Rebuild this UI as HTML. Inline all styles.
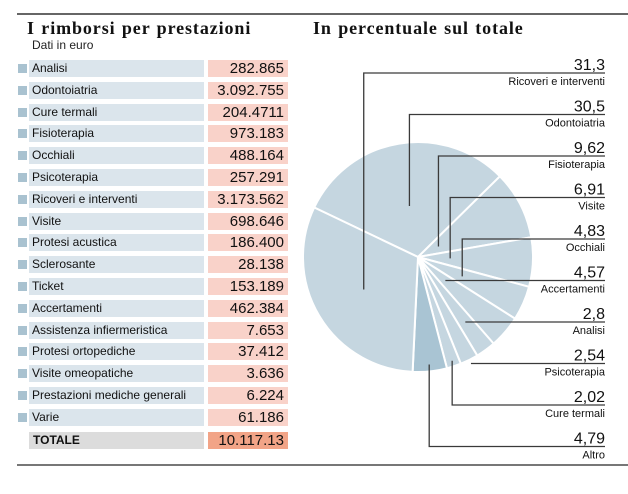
<!DOCTYPE html>
<html><head><meta charset="utf-8">
<style>
body{margin:0;background:#fff;width:628px;height:494px;position:relative;overflow:hidden;font-family:"Liberation Sans",sans-serif;}
.abs{position:absolute}
.title{font-family:"Liberation Serif",serif;font-weight:bold;font-size:18px;color:#111;letter-spacing:0.9px;word-spacing:1px}
.lab{position:absolute;left:29px;width:175px;height:17px;background:#dbe5ec;font-size:12px;line-height:17px;padding-left:3px;box-sizing:border-box;color:#111}
.val{position:absolute;left:208px;width:80px;height:17px;background:#f9d2c9;font-size:15px;line-height:17px;text-align:right;padding-right:4px;box-sizing:border-box;color:#111}
.sq{position:absolute;left:18px;width:9px;height:9px;background:#a9c2d0}
</style></head><body>
<div class="abs" style="left:17px;top:13px;width:611px;height:2px;background:#666"></div>
<div class="abs title" style="left:27px;top:18px">I rimborsi per prestazioni</div>
<div class="abs" style="left:32px;top:38px;font-size:12px;color:#222">Dati in euro</div>
<div class="abs title" style="left:313px;top:18px">In percentuale sul totale</div>
<div id="table"></div>
<div class="abs" style="left:17px;top:464px;width:611px;height:2px;background:#777"></div>
<svg class="abs" style="left:0;top:0" width="628" height="494" id="pie"></svg>
<script>
const rowLabels=["Analisi","Odontoiatria","Cure termali","Fisioterapia","Occhiali","Psicoterapia","Ricoveri e interventi","Visite","Protesi acustica","Sclerosante","Ticket","Accertamenti","Assistenza infiermeristica","Protesi ortopediche","Visite omeopatiche","Prestazioni mediche generali","Varie"];
const rowValues=["282.865","3.092.755","204.4711","973.183","488.164","257.291","3.173.562","698.646","186.400","28.138","153.189","462.384","7.653","37.412","3.636","6.224","61.186"];
const totalValue="10.117.13";
const sliceNames=["Odontoiatria","Fisioterapia","Visite","Occhiali","Accertamenti","Analisi","Psicoterapia","Cure termali","Altro","Ricoveri e interventi"];
const slicePct=[30.5,9.62,6.91,4.83,4.57,2.8,2.54,2.02,4.79,31.3];
const sliceLabels=["30,5","9,62","6,91","4,83","4,57","2,8","2,54","2,02","4,79","31,3"];
const labelOrder=[9,0,1,2,3,4,5,6,7,8];
// leader style per label slot: radius fraction for vertical leaders, 0 = horizontal leader
const leaderStyle=[0.55,0.45,0.2,0.28,0.42,0,0,0,0.95,0.94];

const t=document.getElementById('table');
rowLabels.forEach((l,i)=>{
  const y=60+i*21.8;
  const sq=document.createElement('div');sq.className='sq';sq.style.top=(y+4)+'px';
  
  
  const a=document.createElement('div');a.className='lab';a.style.top=y+'px';a.textContent=l;
  
  
  const b=document.createElement('div');b.className='val';b.style.top=y+'px';b.textContent=rowValues[i];
  
  
  t.appendChild(sq);t.appendChild(a);t.appendChild(b);
});
const ty=432;
const tl=document.createElement('div');tl.className='lab';tl.style.top=ty+'px';tl.style.background='#dcdcdc';tl.style.fontWeight='bold';tl.style.paddingLeft='4px';tl.textContent='TOTALE';


const tv=document.createElement('div');tv.className='val';tv.style.top=ty+'px';tv.style.background='#f2a487';tv.textContent=totalValue;


t.appendChild(tl);t.appendChild(tv);

const svg=document.getElementById('pie');const NS='http://www.w3.org/2000/svg';
const cx=418,cy=257,r=115;
const total=slicePct.reduce((a,b)=>a+b,0);
function pt(deg,rr){const a=deg*Math.PI/180;return [cx+rr*Math.cos(a),cy-rr*Math.sin(a)];}
let ang=154.5;const mids=[];
slicePct.forEach((p,i)=>{
  const sweep=p/total*360;const a0=ang,a1=ang-sweep;
  const [x0,y0]=pt(a0,r),[x1,y1]=pt(a1,r);
  const path=document.createElementNS(NS,'path');
  path.setAttribute('d',`M${cx},${cy}L${x0},${y0}A${r},${r} 0 ${sweep>180?1:0} 1 ${x1},${y1}Z`);
  path.setAttribute('fill',sliceNames[i]==='Altro'?'#a9c4d3':'#c5d6e0');
  path.setAttribute('stroke','#fff');path.setAttribute('stroke-width','2');
  
  
  svg.appendChild(path);
  mids.push((a0+a1)/2);ang=a1;
});
labelOrder.forEach((si,k)=>{
  const ly=73+k*41.5;
  const m=mids[si];
  let d;
  const f=leaderStyle[k];
  if(f===0){
    const a=m*Math.PI/180;const dy=ly-cy;
    const px=cx+dy/Math.tan(-a);
    d=`M${px},${ly}L605,${ly}`;
  } else {
    const [px,py]=pt(m,r*f);
    d=`M${px},${py}L${px},${ly}L605,${ly}`;
  }
  const ln=document.createElementNS(NS,'path');
  ln.setAttribute('d',d);ln.setAttribute('fill','none');ln.setAttribute('stroke','#3a3a3a');ln.setAttribute('stroke-width','1.3');
  
  
  svg.appendChild(ln);
  const n=document.createElementNS(NS,'text');n.setAttribute('x',605);n.setAttribute('y',ly-3);n.setAttribute('text-anchor','end');
  n.setAttribute('font-size','16');n.setAttribute('fill','#111');n.setAttribute('font-family','Liberation Sans, sans-serif');n.textContent=sliceLabels[si];
  
  
  svg.appendChild(n);
  const s=document.createElementNS(NS,'text');s.setAttribute('x',605);s.setAttribute('y',ly+12);s.setAttribute('text-anchor','end');
  s.setAttribute('font-size','11');s.setAttribute('fill','#111');s.setAttribute('font-family','Liberation Sans, sans-serif');s.textContent=sliceNames[si];
  
  
  svg.appendChild(s);
});
</script>
</body></html>
